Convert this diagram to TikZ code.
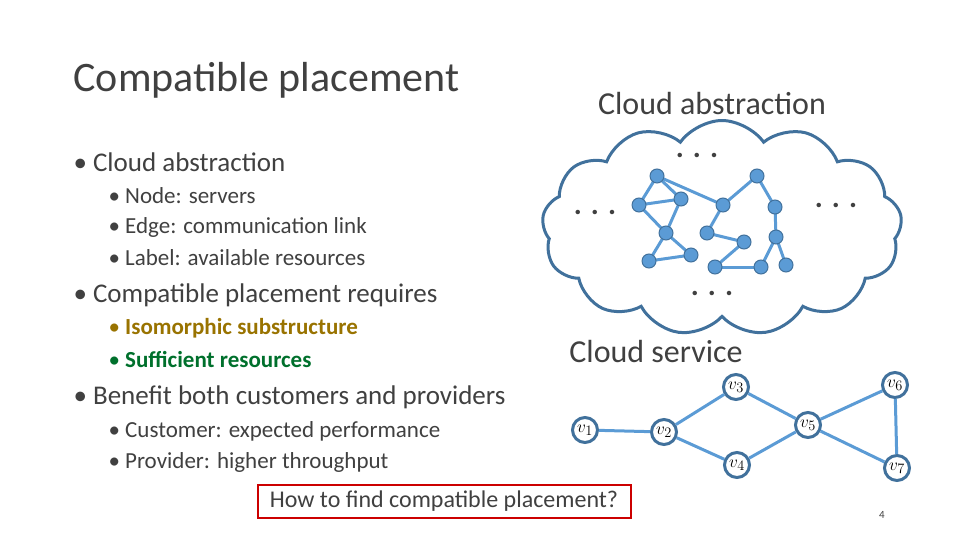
\documentclass[tikz,border=0pt]{standalone}
\usepackage{fontspec}
\setmainfont{Carlito}
\usetikzlibrary{shapes.symbols}
\definecolor{dk}{HTML}{41719C}
\definecolor{lt}{HTML}{5B9BD5}
\definecolor{olv}{HTML}{997300}
\definecolor{grn}{HTML}{00702C}
\definecolor{txt}{HTML}{404040}
\tikzset{
 sn/.style={circle,fill=lt,draw=dk,line width=1pt,minimum size=14pt,inner sep=0pt},
 se/.style={draw=lt,line width=3pt},
 gn/.style={circle,draw=dk,line width=3pt,fill=white,minimum size=25pt,inner sep=0pt,font=\fontsize{19}{19}\selectfont},
 lv1/.style={anchor=west,text=txt,font=\fontsize{27}{27}\selectfont},
 lv2/.style={anchor=west,text=txt,font=\fontsize{23}{23}\selectfont},
 dots/.style={text=txt,font=\fontsize{30}{30}\selectfont\bfseries},
}
\begin{document}
\begin{tikzpicture}[x=1pt,y=-1pt]
\useasboundingbox (0,0) rectangle (960,540);
\node[anchor=west,text=txt,font=\fontsize{42}{42}\selectfont] (title) at (70,80) {Compatible placement};
\node[text=txt,font=\fontsize{32}{32}\selectfont] (ca) at (712,104) {Cloud abstraction};
\node[cloud,cloud puffs=13,cloud puff arc=110,aspect=1.9,draw=dk,line width=3pt,minimum width=360pt,minimum height=215pt] (cloud) at (722,228) {};
\node[lv1] (b1) at (70,162) {• Cloud abstraction};
\node[lv2] (b11) at (105,196) {• Node: servers};
\node[lv2] (b12) at (105,227) {• Edge: communication link};
\node[lv2] (b13) at (105,258) {• Label: available resources};
\node[lv1] (b2) at (70,295) {• Compatible placement requires};
\node[lv2,text=olv] (b21) at (105,328) {• \textbf{Isomorphic substructure}};
\node[lv2,text=grn] (b22) at (105,359) {• \textbf{Sufficient resources}};
\node[lv1] (b3) at (70,397) {• Benefit both customers and providers};
\node[lv2] (b31) at (105,431) {• Customer: expected performance};
\node[lv2] (b32) at (105,462) {• Provider: higher throughput};
\node[text=txt,font=\fontsize{32}{32}\selectfont] (cs) at (656,352) {Cloud service};
\node[draw=red!80!black,line width=2pt,minimum width=373pt,minimum height=33pt,text=txt,font=\fontsize{24}{24}\selectfont] (q) at (444,501) {How to find compatible placement?};
\node[text=txt,font=\fontsize{11}{11}\selectfont] (pg) at (882,515) {4};
% dots
\node[dots] (d1) at (697,155) {. . .};
\node[dots] (d2) at (595,212) {. . .};
\node[dots] (d3) at (836,205) {. . .};
\node[dots] (d4) at (712,293) {. . .};
% cloud network
\foreach \n/\x/\y in {a/657/176,b/639/205,c/681/199,d/666/233,e/649/261,f/691/255,g/723/205,h/757/176,i/775/207,j/707/233,k/744/242,l/776/237,m/715/267,n/761/267,o/786/265}
  \coordinate (\n) at (\x,\y);
\foreach \u/\v in {a/b,a/c,b/c,a/g,c/d,b/d,d/e,d/f,e/f,g/h,g/j,j/k,k/m,m/n,h/i,i/l,l/n,l/o}
  \draw[se] (\u) -- (\v);
\foreach \n in {a,b,c,d,e,f,g,h,i,j,k,l,m,n,o}
  \node[sn] (N\n) at (\n) {};
% service graph
\node[gn] (v1) at (585,430) {$v_1$};
\node[gn] (v2) at (664,432) {$v_2$};
\node[gn] (v3) at (736,387) {$v_3$};
\node[gn] (v4) at (737,465) {$v_4$};
\node[gn] (v5) at (808,425) {$v_5$};
\node[gn] (v6) at (895,385) {$v_6$};
\node[gn] (v7) at (897,468) {$v_7$};
\foreach \u/\v in {v1/v2,v2/v3,v2/v4,v3/v5,v4/v5,v5/v6,v5/v7,v6/v7}
  \draw[se] (\u) -- (\v);
\end{tikzpicture}
\end{document}
